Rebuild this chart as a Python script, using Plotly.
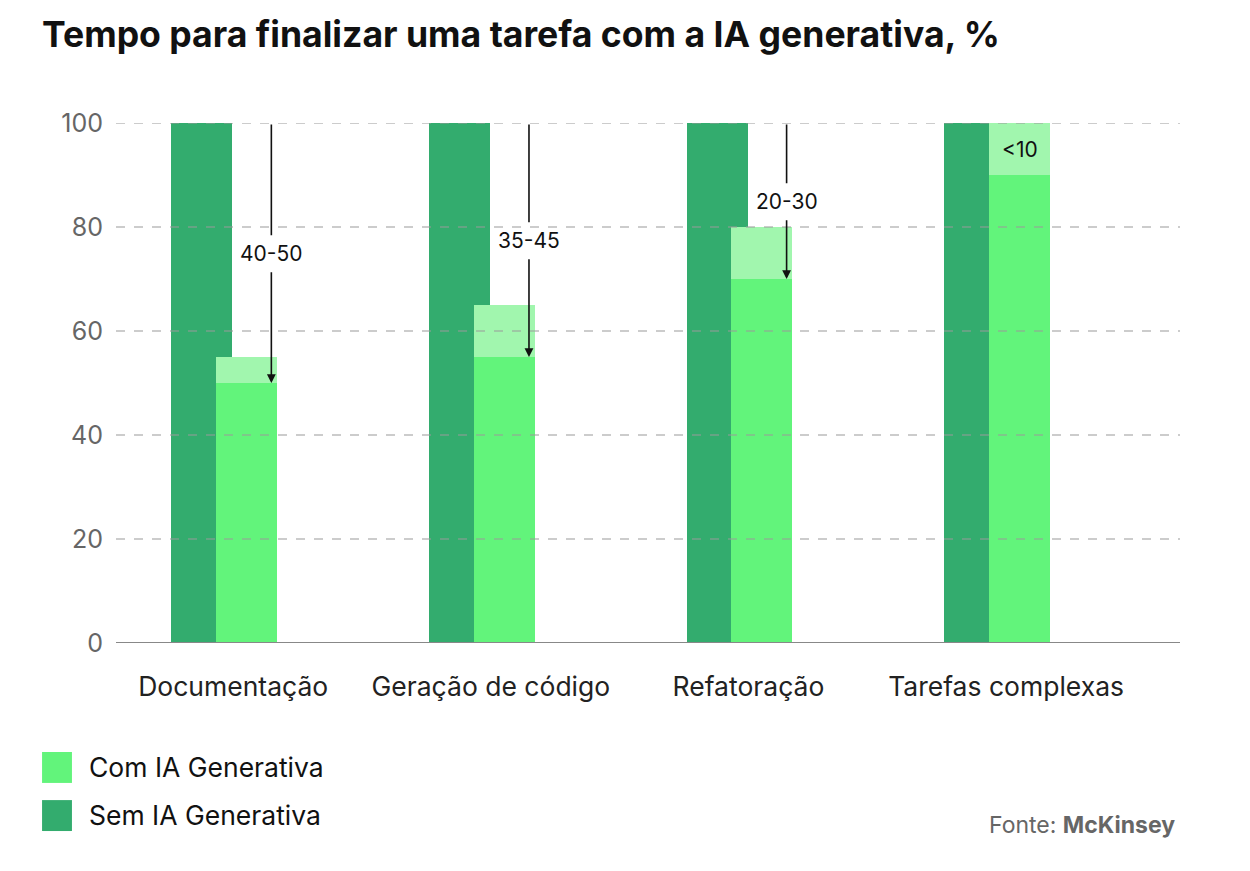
import plotly.graph_objects as go

## Data
categorias = ['Documentação', 'Geração de código', 'Refatoração', 'Tarefas complexas']
sem_ia = [100, 100, 100, 100]
com_ia_min = [50, 55, 70, 90]     # solid part of the light bar
com_ia_max = [55, 65, 80, 100]    # top of the paler band
reducao = ['40-50', '35-45', '20-30', '<10']
y_ticks = [0, 20, 40, 60, 80, 100]

DARK = '#33AC6E'
LIGHT = '#62F47B'
PALE = '#A1F6AE'
FONT = 'Inter'

idx = list(range(len(categorias)))
off = 0.087
w = 0.237

fig = go.Figure()

# dark bars (sem IA)
fig.add_trace(go.Bar(x=[i - off for i in idx], y=sem_ia, width=w,
                     marker=dict(color=DARK, line=dict(width=0)), showlegend=False))
# light bars (com IA)
fig.add_trace(go.Bar(x=[i + off for i in idx], y=com_ia_min, width=w,
                     marker=dict(color=LIGHT, line=dict(width=0)), showlegend=False))
# pale band for the range
fig.add_trace(go.Bar(x=[i + off for i in idx],
                     y=[hi - lo for lo, hi in zip(com_ia_min, com_ia_max)],
                     base=com_ia_min, width=w,
                     marker=dict(color=PALE, line=dict(width=0)), showlegend=False))

## dashed gridlines drawn over the bars
for t in y_ticks[1:]:
    fig.add_shape(type='line', xref='paper', yref='y', x0=0, x1=1, y0=t, y1=t,
                  line=dict(color='#9a9a9a', width=1.2, dash='dash'), layer='above')

## arrows with the range label
gap = 3.4
ax_off = 0.183
for i in idx:
    if com_ia_max[i] >= sem_ia[i]:
        # label sits inside the pale band
        fig.add_annotation(x=i + off, y=(com_ia_min[i] + com_ia_max[i]) / 2,
                           text=reducao[i], showarrow=False,
                           font=dict(family=FONT, size=21, color='#111'))
        continue
    mid = (sem_ia[i] + com_ia_min[i]) / 2
    xa = i + ax_off
    fig.add_annotation(x=xa, y=mid + gap, ax=xa, ay=sem_ia[i], xref='x', yref='y',
                       axref='x', ayref='y', showarrow=True, arrowhead=0,
                       arrowwidth=1.6, arrowcolor='#111', text='')
    fig.add_annotation(x=xa, y=com_ia_min[i], ax=xa, ay=mid - gap, xref='x', yref='y',
                       axref='x', ayref='y', showarrow=True, arrowhead=2, arrowsize=1.1,
                       arrowwidth=1.6, arrowcolor='#111', text='')
    fig.add_annotation(x=xa, y=mid, text=reducao[i], showarrow=False,
                       font=dict(family=FONT, size=21, color='#111'))

## legend built by hand
legend_items = [('Com IA Generativa', LIGHT), ('Sem IA Generativa', DARK)]
for k, (name, col) in enumerate(legend_items):
    y0 = -0.2096 - k * 0.0925
    fig.add_shape(type='rect', xref='paper', yref='paper',
                  x0=-0.0695, x1=-0.0414, y0=y0, y1=y0 - 0.0595,
                  fillcolor=col, line=dict(width=0))
    fig.add_annotation(xref='paper', yref='paper', x=-0.0272, y=y0 - 0.0295,
                       xanchor='left', yanchor='middle', showarrow=False, text=name,
                       font=dict(family=FONT, size=26.5, color='#111'))

fig.add_annotation(xref='paper', yref='paper', x=0.997, y=-0.35, xanchor='right',
                   yanchor='middle', showarrow=False,
                   text='Fonte: <b>McKinsey</b>',
                   font=dict(family=FONT, size=23, color='#666'))

fig.update_layout(
    width=1250, height=871,
    margin=dict(l=108, r=78, t=115, b=236),
    barmode='overlay', bargap=0,
    plot_bgcolor='white', paper_bgcolor='white',
    title=dict(text='<b>Tempo para finalizar uma tarefa com a IA generativa, %</b>',
               x=0.0272, xanchor='left', y=0.97, yanchor='middle',
               font=dict(family=FONT, size=35.6, color='#111')),
    xaxis=dict(range=[-0.42, 3.71], tickvals=[i + 0.035 for i in idx], ticktext=categorias,
               showgrid=False, zeroline=False, showline=False, ticks='',
               ticklabelstandoff=25,
               tickfont=dict(family=FONT, size=26.5, color='#222')),
    yaxis=dict(range=[0, 100], tickvals=y_ticks, showgrid=False, zeroline=False,
               showline=False, ticks='', ticklabelstandoff=12,
               tickfont=dict(family=FONT, size=25, color='#666')),
    showlegend=False,
)

## base axis line
fig.add_shape(type='line', xref='paper', yref='y', x0=0, x1=1, y0=0, y1=0,
              line=dict(color='#888', width=2), layer='above')

fig.write_html('out.html')
